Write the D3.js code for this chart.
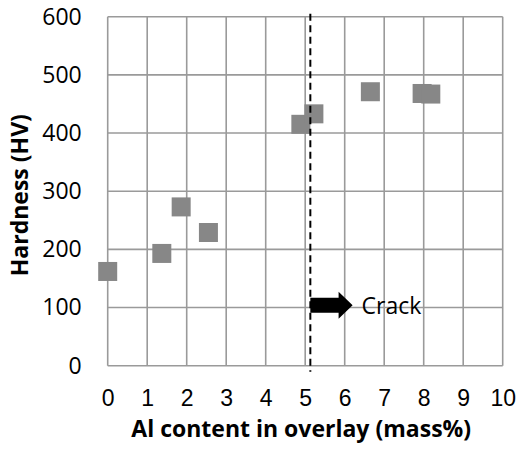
<!DOCTYPE html>
<html>
<head>
<meta charset="utf-8">
<script src="https://cdn.jsdelivr.net/npm/d3@7"></script>
<style>
  body { margin: 0; background: #fff; }
  svg { display: block; }
</style>
</head>
<body>
<div id="chart"></div>
<script>
// values
const alContent = [0, 1.37, 1.86, 2.55, 4.89, 5.22, 6.65, 7.96, 8.18];
const hardness = [162, 193, 273, 229, 415, 433, 471, 468, 467];
const xTicks = [0, 1, 2, 3, 4, 5, 6, 7, 8, 9, 10];
const yTicks = [0, 100, 200, 300, 400, 500, 600];
const crackLimit = 5.13;
const crackArrow = [5.13, 6.2, 104]; // from x, to x, at y
const crackLabel = 'Crack';

const width = 518, height = 450;
const margin = { top: 16.7, right: 15.3, bottom: 84.3, left: 107.7 };
const innerW = width - margin.left - margin.right;
const innerH = height - margin.top - margin.bottom;

const svg = d3.select('#chart').append('svg')
  .attr('width', width)
  .attr('height', height);

const g = svg.append('g')
  .attr('transform', `translate(${margin.left}, ${margin.top})`);

const x = d3.scaleLinear().domain([0, 10]).range([0, innerW]);
const y = d3.scaleLinear().domain([0, 600]).range([innerH, 0]);

const gridColor = '#9a9a9a';

// grid
g.append('g').classed('grid-x', true)
  .selectAll('line')
  .data(xTicks)
  .enter()
  .append('line')
  .attr('x1', d => x(d))
  .attr('x2', d => x(d))
  .attr('y1', 0)
  .attr('y2', innerH)
  .style('stroke', gridColor)
  .style('stroke-width', 1.6);

g.append('g').classed('grid-y', true)
  .selectAll('line')
  .data(yTicks)
  .enter()
  .append('line')
  .attr('x1', 0)
  .attr('x2', innerW)
  .attr('y1', d => y(d))
  .attr('y2', d => y(d))
  .style('stroke', gridColor)
  .style('stroke-width', 1.6);

// axes (labels only)
const xAxis = g.append('g')
  .attr('transform', `translate(0, ${innerH})`)
  .call(d3.axisBottom(x).tickValues(xTicks).tickSize(0).tickPadding(24));
xAxis.select('.domain').remove();
xAxis.selectAll('text')
  .style('font-family', '"Liberation Sans Narrow", "Liberation Sans", sans-serif')
  .style('font-size', '23px')
  .style('fill', '#000');

const yAxis = g.append('g')
  .call(d3.axisLeft(y).tickValues(yTicks).tickSize(0).tickPadding(26));
yAxis.select('.domain').remove();
yAxis.selectAll('text')
  .style('font-family', '"Open Sans", sans-serif')
  .style('font-size', '23px')
  .style('fill', '#000');

// points
const size = 19;
g.append('g').classed('points', true)
  .selectAll('rect')
  .data(alContent)
  .enter()
  .append('rect')
  .attr('x', d => x(d) - size / 2)
  .attr('y', (d, i) => y(hardness[i]) - size / 2)
  .attr('width', size)
  .attr('height', size)
  .style('fill', '#878787');

// crack limit
g.append('line')
  .attr('x1', x(crackLimit))
  .attr('x2', x(crackLimit))
  .attr('y1', -3)
  .attr('y2', innerH + 6)
  .style('stroke', '#000')
  .style('stroke-width', 2)
  .style('stroke-dasharray', '7,4.5');

// arrow
const ax0 = x(crackArrow[0]), ax1 = x(crackArrow[1]), ay = y(crackArrow[2]);
const headLen = 14, shaftHalf = 7.5, headHalf = 13.5;
g.append('polygon')
  .attr('points', [
    [ax0, ay - shaftHalf], [ax1 - headLen, ay - shaftHalf], [ax1 - headLen, ay - headHalf],
    [ax1, ay], [ax1 - headLen, ay + headHalf], [ax1 - headLen, ay + shaftHalf], [ax0, ay + shaftHalf]
  ].map(p => p.join(',')).join(' '))
  .style('fill', '#000');

g.append('text')
  .attr('x', ax1 + 9)
  .attr('y', ay + 9)
  .text(crackLabel)
  .style('font-family', '"Open Sans", sans-serif')
  .style('font-size', '23px')
  .style('fill', '#000');

// axis titles
svg.append('text')
  .attr('transform', `translate(28, ${margin.top + innerH / 2 + 4}) rotate(-90)`)
  .attr('text-anchor', 'middle')
  .text('Hardness (HV)')
  .style('font-family', '"Open Sans", sans-serif')
  .style('font-weight', 'bold')
  .style('font-size', '23px');

svg.append('text')
  .attr('x', margin.left + innerW / 2 - 4)
  .attr('y', 437)
  .attr('text-anchor', 'middle')
  .text('Al content in overlay (mass%)')
  .style('font-family', '"Open Sans", sans-serif')
  .style('font-weight', 'bold')
  .style('font-size', '23px');
</script>
</body>
</html>
